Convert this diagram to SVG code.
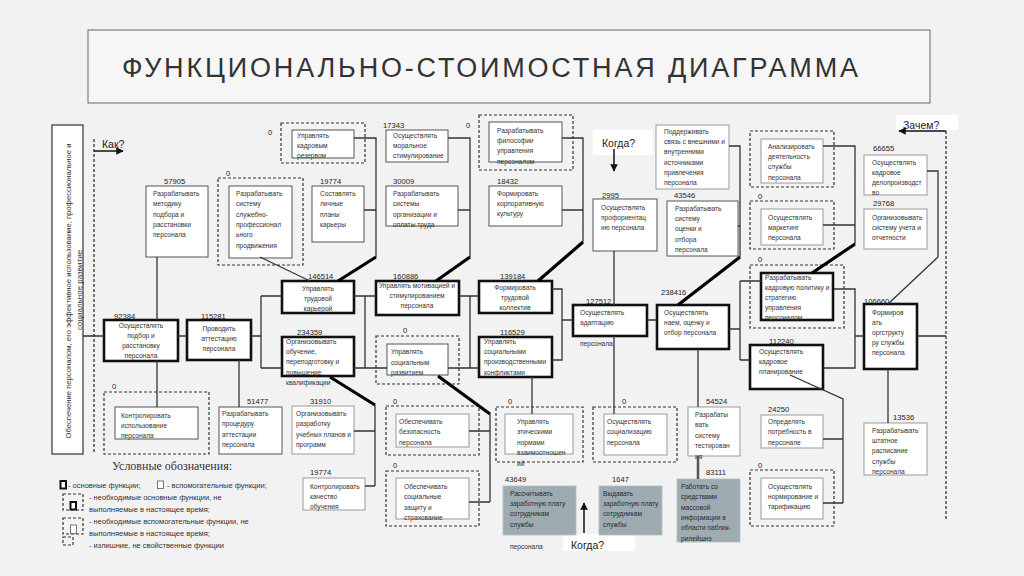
<svg xmlns="http://www.w3.org/2000/svg" width="1024" height="576" viewBox="0 0 1024 576">
<defs>
<marker id="ah" viewBox="0 0 10 10" refX="9" refY="5" markerWidth="5" markerHeight="5" orient="auto"><path d="M0,0 L10,5 L0,10 z" fill="#111"/></marker>
<style>
text{font-family:"Liberation Sans",Arial,sans-serif;fill:#333}
.t{font-size:6.6px}
.c{text-anchor:middle}
.n{font-size:7.6px;fill:#222}
.b{fill:#fff;stroke:#555;stroke-width:1}
.bl{fill:#fff;stroke:#999;stroke-width:1}
.B{fill:#fff;stroke:#111;stroke-width:2.6}
.d{fill:none;stroke:#333;stroke-width:1.2;stroke-dasharray:3 2}
.g{fill:#9eabb0;stroke:#b3bec2;stroke-width:.8}
.w{fill:#1f2b35}
.l{fill:none;stroke:#333;stroke-width:1.3}
.L{fill:none;stroke:#000;stroke-width:3.2}
.q{font-size:10.5px;fill:#222}
.lg{font-size:7.5px}
</style>
</defs>
<rect x="0" y="0" width="1024" height="576" fill="#f2f2f2"/>
<g id="title">
<rect x="88" y="30" width="842" height="73" fill="#f6f6f6" stroke="#666" stroke-width="1"/>
<text x="122" y="77" font-size="27" fill="#3d3d3d" textLength="736" lengthAdjust="spacing">ФУНКЦИОНАЛЬНО-СТОИМОСТНАЯ ДИАГРАММА</text>
</g>
<g id="goal">
<rect x="52" y="125" width="31" height="329" fill="#fff" stroke="#333" stroke-width="1.2"/>
<text transform="rotate(-90 71 291)" x="71" y="291" font-size="8" class="c" textLength="295" lengthAdjust="spacingAndGlyphs">Обеспечение персоналом, его эффективное использование, профессиональное и</text>
<text transform="rotate(-90 82 290)" x="82" y="290" font-size="8" class="c">социальное развитие</text>
</g>
<g id="questions">
<line x1="94" y1="139" x2="94" y2="454" stroke="#333" stroke-width="1.3" stroke-dasharray="3 2"/>
<line x1="946" y1="131" x2="946" y2="520" stroke="#333" stroke-width="1.3" stroke-dasharray="3 2"/>
<line x1="94" y1="151" x2="123" y2="151" stroke="#111" stroke-width="1.5" marker-end="url(#ah)"/>
<text class="q" x="102" y="148" font-size="10">Как?</text>
<rect x="896" y="115" width="62" height="15" fill="#fff"/>
<text class="q" x="903" y="129">Зачем?</text>
<line x1="946" y1="131" x2="899" y2="131" stroke="#111" stroke-width="1.5" marker-end="url(#ah)"/>
<rect x="593" y="130" width="60" height="25" fill="#fff"/>
<text class="q" x="602" y="147">Когда?</text>
<line x1="614" y1="149" x2="614" y2="171" stroke="#111" stroke-width="1.5" marker-end="url(#ah)"/>
<rect x="563" y="534" width="72" height="17" fill="#fff"/>
<text class="q" x="571" y="549">Когда?</text>
<line x1="584" y1="533" x2="584" y2="503" stroke="#111" stroke-width="1.5" marker-end="url(#ah)"/>
</g>
<g id="n1"><text class="n" x="268" y="135">0</text><rect class="d" x="281" y="123" width="84" height="40"/><rect class="b" x="292" y="130" width="62" height="28"/><text class="t" x="297" y="138">Управлять<tspan x="297" dy="10">кадровым</tspan><tspan x="297" dy="10">резервом</tspan></text></g>
<g id="n2"><text class="n" x="383" y="128">17343</text><rect class="b" x="386" y="130" width="62" height="32"/><text class="t" x="393" y="138">Осуществлять<tspan x="393" dy="10">моральное</tspan><tspan x="393" dy="10">стимулирование</tspan></text></g>
<g id="n3"><text class="n" x="466" y="128">0</text><rect class="d" x="479" y="115" width="94" height="55"/><rect class="b" x="489" y="122" width="73" height="40"/><text class="t" x="497" y="133">Разрабатывать<tspan x="497" dy="10.2">философии</tspan><tspan x="497" dy="10.2">управления</tspan><tspan x="497" dy="10.2">персоналом</tspan></text></g>
<g id="n4"><rect class="bl" x="656" y="125" width="73" height="64"/><text class="t" x="664" y="134">Поддерживать<tspan x="664" dy="10.2">связь с внешними и</tspan><tspan x="664" dy="10.2">внутренними</tspan><tspan x="664" dy="10.2">источниками</tspan><tspan x="664" dy="10.2">привлечения</tspan><tspan x="664" dy="10.2">персонала</tspan></text></g>
<g id="n5"><text class="n" x="164" y="184">57905</text><rect class="b" x="146" y="186" width="62" height="71"/><text class="t" x="153" y="196">Разрабатывать<tspan x="153" dy="10.3">методику</tspan><tspan x="153" dy="10.3">подбора и</tspan><tspan x="153" dy="10.3">расстановки</tspan><tspan x="153" dy="10.3">персонала</tspan></text></g>
<g id="n6"><text class="n" x="226" y="176">0</text><rect class="d" x="218" y="178" width="85" height="87"/><rect class="b" x="229" y="186" width="63" height="72"/><text class="t" x="236" y="196">Разрабатывать<tspan x="236" dy="10.3">систему</tspan><tspan x="236" dy="10.3">служебно-</tspan><tspan x="236" dy="10.3">профессионал</tspan><tspan x="236" dy="10.3">ьного</tspan><tspan x="236" dy="10.3">продвижения</tspan></text></g>
<g id="n7"><text class="n" x="320" y="184">19774</text><rect class="b" x="312" y="186" width="52" height="56"/><text class="t" x="320" y="196">Составлять<tspan x="320" dy="10.3">личные</tspan><tspan x="320" dy="10.3">планы</tspan><tspan x="320" dy="10.3">карьеры</tspan></text></g>
<g id="n8"><text class="n" x="393" y="184">30009</text><rect class="b" x="386" y="186" width="72" height="40"/><text class="t" x="393" y="196">Разрабатывать<tspan x="393" dy="10.3">системы</tspan><tspan x="393" dy="10.3">организации и</tspan><tspan x="393" dy="10.3">оплаты труда</tspan></text></g>
<g id="n9"><text class="n" x="497" y="184">18432</text><rect class="b" x="489" y="186" width="73" height="40"/><text class="t" x="497" y="196">Формировать<tspan x="497" dy="10.2">корпоративную</tspan><tspan x="497" dy="10.2">культуру</tspan></text></g>
<g id="n10"><text class="n" x="602" y="198">2995</text><rect class="b" x="593" y="199" width="64" height="52"/><text class="t" x="601" y="210">Осуществлять<tspan x="601" dy="10">профориентац</tspan><tspan x="601" dy="10">ию персонала</tspan></text></g>
<g id="n11"><text class="n" x="674" y="198">43546</text><rect class="b" x="667" y="201" width="71" height="55"/><text class="t" x="675" y="211">Разрабатывать<tspan x="675" dy="10.2">систему</tspan><tspan x="675" dy="10.2">оценки и</tspan><tspan x="675" dy="10.2">отбора</tspan><tspan x="675" dy="10.2">персонала</tspan></text></g>
<g id="n12"><rect class="d" x="750" y="131" width="84" height="56"/><rect class="bl" x="761" y="139" width="62" height="44"/><text class="t" x="768" y="149">Анализировать<tspan x="768" dy="10.2">деятельность</tspan><tspan x="768" dy="10.2">службы</tspan><tspan x="768" dy="10.2">персонала</tspan></text></g>
<g id="n13"><text class="n" x="758" y="199">0</text><rect class="d" x="750" y="201" width="84" height="48"/><rect class="bl" x="761" y="209" width="62" height="36"/><text class="t" x="768" y="220">Осуществлять<tspan x="768" dy="10">маркетинг</tspan><tspan x="768" dy="10">персонала</tspan></text></g>
<g id="n14"><text class="n" x="873" y="151">66655</text><rect class="bl" x="864" y="155" width="63" height="40"/><text class="t" x="872" y="165">Осуществлять<tspan x="872" dy="10">кадровое</tspan><tspan x="872" dy="10">делопроизводст</tspan><tspan x="872" dy="10">во</tspan></text></g>
<g id="n15"><text class="n" x="873" y="206">29768</text><rect class="bl" x="864" y="209" width="63" height="40"/><text class="t" x="872" y="220">Организовывать<tspan x="872" dy="10">систему учета и</tspan><tspan x="872" dy="10">отчетности</tspan></text></g>
<g id="n16"><text class="n" x="758" y="262">0</text><rect class="d" x="750" y="265" width="94" height="63"/><rect class="B" x="761" y="273" width="72" height="47"/><text class="t" x="765" y="280">Разрабатывать<tspan x="765" dy="10">кадровую политику и</tspan><tspan x="765" dy="10">стратегию</tspan><tspan x="765" dy="10">управления</tspan><tspan x="765" dy="10">персоналом</tspan></text></g>
<g id="n17"><text class="n" x="114" y="319">92384</text><rect class="B" x="104" y="320" width="74" height="41"/><text class="t c" x="141" y="328">Осуществлять<tspan x="141" dy="10">подбор и</tspan><tspan x="141" dy="10">расстановку</tspan><tspan x="141" dy="10">персонала</tspan></text></g>
<g id="n18"><text class="n" x="201" y="319">115281</text><rect class="B" x="187" y="320" width="64" height="40"/><text class="t c" x="219" y="331">Проводить<tspan x="219" dy="10">аттестацию</tspan><tspan x="219" dy="10">персонала</tspan></text></g>
<g id="n19"><text class="n" x="308" y="279">146514</text><rect class="B" x="282" y="281" width="72" height="32"/><text class="t c" x="318" y="291">Управлять<tspan x="318" dy="10">трудовой</tspan><tspan x="318" dy="10">карьерой</tspan></text></g>
<g id="n20"><text class="n" x="393" y="279">160886</text><rect class="B" x="376" y="281" width="83" height="34"/><text class="t c" x="417" y="288">Управлять мотивацией и<tspan x="417" dy="10">стимулированием</tspan><tspan x="417" dy="10">персонала</tspan></text></g>
<g id="n21"><text class="n" x="500" y="279">139184</text><rect class="B" x="479" y="281" width="73" height="32"/><text class="t c" x="515" y="290">Формировать<tspan x="515" dy="10">трудовой</tspan><tspan x="515" dy="10">коллектив</tspan></text></g>
<g id="n22"><text class="n" x="297" y="335">234359</text><rect class="B" x="282" y="337" width="72" height="39"/><text class="t" x="286" y="344">Организовывать<tspan x="286" dy="10.2">обучение,</tspan><tspan x="286" dy="10.2">переподготовку и</tspan><tspan x="286" dy="10.2">повышение</tspan><tspan x="286" dy="10.2">квалификации</tspan></text></g>
<g id="n23"><text class="n" x="403" y="333">0</text><rect class="d" x="376" y="336" width="83" height="48"/><rect class="b" x="387" y="344" width="61" height="31"/><text class="t" x="391" y="354">Управлять<tspan x="391" dy="10.5">социальным</tspan><tspan x="391" dy="10.5">развитием</tspan></text></g>
<g id="n24"><text class="n" x="500" y="335">116529</text><rect class="B" x="479" y="337" width="73" height="40"/><text class="t" x="484" y="344">Управлять<tspan x="484" dy="10.2">социальными</tspan><tspan x="484" dy="10.2">производственными</tspan><tspan x="484" dy="10.2">конфликтами</tspan></text></g>
<g id="n25"><text class="n" x="586" y="304">127512</text><rect class="B" x="573" y="305" width="74" height="31"/><text class="t" x="580" y="315">Осуществлять<tspan x="580" dy="10">адаптацию</tspan></text><text class="t" x="580" y="346">персонала</text></g>
<g id="n26"><text class="n" x="661" y="295">238416</text><rect class="B" x="657" y="305" width="72" height="44"/><text class="t" x="664" y="315">Осуществлять<tspan x="664" dy="10.2">наем, оценку и</tspan><tspan x="664" dy="10.2">отбор персонала</tspan></text></g>
<g id="n27"><text class="n" x="769" y="344">112240</text><rect class="B" x="750" y="345" width="73" height="44"/><text class="t" x="759" y="354">Осуществлять<tspan x="759" dy="10">кадровое</tspan><tspan x="759" dy="10">планирование</tspan></text></g>
<g id="n28"><text class="n" x="864" y="304">106660</text><rect class="B" x="864" y="304" width="53" height="65"/><text class="t" x="872" y="315">Формиров<tspan x="872" dy="10">ать</tspan><tspan x="872" dy="10">оргструкту</tspan><tspan x="872" dy="10">ру службы</tspan><tspan x="872" dy="10">персонала</tspan></text></g>
<g id="n29"><text class="n" x="112" y="389">0</text><rect class="d" x="104" y="392" width="105" height="62"/><rect class="b" x="115" y="407" width="83" height="32"/><text class="t" x="121" y="418">Контролировать<tspan x="121" dy="10.2">использование</tspan><tspan x="121" dy="10.2">персонала</tspan></text></g>
<g id="n30"><text class="n" x="247" y="404">51477</text><rect class="b" x="219" y="407" width="63" height="47"/><text class="t" x="222" y="416">Разрабатывать<tspan x="222" dy="10.4">процедуру</tspan><tspan x="222" dy="10.4">аттестации</tspan><tspan x="222" dy="10.4">персонала</tspan></text></g>
<g id="n31"><text class="n" x="310" y="404">31910</text><rect class="bl" x="292" y="406" width="62" height="48"/><text class="t" x="296" y="416">Организовывать<tspan x="296" dy="10.4">разработку</tspan><tspan x="296" dy="10.4">учебных планов и</tspan><tspan x="296" dy="10.4">программ</tspan></text></g>
<g id="n32"><text class="n" x="393" y="404">0</text><rect class="d" x="386" y="406" width="93" height="49"/><rect class="bl" x="396" y="414" width="73" height="33"/><text class="t" x="399" y="424">Обеспечивать<tspan x="399" dy="10.4">безопасность</tspan><tspan x="399" dy="10.4">персонала</tspan></text></g>
<g id="n33"><text class="n" x="508" y="404">0</text><rect class="d" x="496" y="407" width="87" height="55"/><rect class="bl" x="505" y="414" width="68" height="40"/><text class="t" x="517" y="424">Управлять<tspan x="517" dy="10.4">этическими</tspan><tspan x="517" dy="10.4">нормами</tspan><tspan x="517" dy="10.4">взаимоотношен</tspan><tspan x="517" dy="10.4">ий</tspan></text></g>
<g id="n34"><text class="n" x="622" y="404">0</text><rect class="d" x="593" y="407" width="84" height="55"/><rect class="bl" x="604" y="414" width="63" height="41"/><text class="t" x="607" y="424">Осуществлять<tspan x="607" dy="10.4">социализацию</tspan><tspan x="607" dy="10.4">персонала</tspan></text></g>
<g id="n35"><text class="n" x="706" y="404">54524</text><rect class="bl" x="688" y="407" width="52" height="49"/><text class="t" x="695" y="417">Разрабаты<tspan x="695" dy="10.4">вать</tspan><tspan x="695" dy="10.4">систему</tspan><tspan x="695" dy="10.4">тестирован</tspan><tspan x="695" dy="10.4">ия</tspan></text></g>
<g id="n36"><text class="n" x="310" y="475">19774</text><rect class="bl" x="303" y="478" width="62" height="32"/><text class="t" x="310" y="489">Контролировать<tspan x="310" dy="10.2">качество</tspan><tspan x="310" dy="10.2">обучения</tspan></text></g>
<g id="n37"><text class="n" x="393" y="468">0</text><rect class="d" x="386" y="471" width="93" height="55"/><rect class="bl" x="396" y="478" width="73" height="41"/><text class="t" x="404" y="489">Обеспечивать<tspan x="404" dy="10.3">социальные</tspan><tspan x="404" dy="10.3">защиту и</tspan><tspan x="404" dy="10.3">страхование</tspan></text></g>
<g id="n38"><text class="n" x="505" y="482">43649</text><rect class="g" x="503" y="486" width="73" height="49"/><text class="t w" x="510" y="496">Рассчитывать<tspan x="510" dy="10.2">заработную плату</tspan><tspan x="510" dy="10.2">сотрудникам</tspan><tspan x="510" dy="10.2">службы</tspan></text><text class="t" x="510" y="549">персонала</text></g>
<g id="n39"><text class="n" x="612" y="482">1647</text><rect class="g" x="599" y="486" width="63" height="49"/><text class="t w" x="603" y="496">Выдавать<tspan x="603" dy="10.2">заработную плату</tspan><tspan x="603" dy="10.2">сотрудникам</tspan><tspan x="603" dy="10.2">службы</tspan></text></g>
<g id="n40"><text class="n" x="706" y="475">83111</text><rect class="g" x="677" y="479" width="63" height="63"/><text class="t w" x="681" y="489">Работать со<tspan x="681" dy="10.3">средствами</tspan><tspan x="681" dy="10.3">массовой</tspan><tspan x="681" dy="10.3">информации в</tspan><tspan x="681" dy="10.3">области паблик-</tspan><tspan x="681" dy="10.3">рилейшнз</tspan></text></g>
<g id="n41"><text class="n" x="768" y="412">24250</text><rect class="bl" x="761" y="415" width="62" height="33"/><text class="t" x="768" y="424">Определять<tspan x="768" dy="10.4">потребность в</tspan><tspan x="768" dy="10.4">персонале</tspan></text></g>
<g id="n42"><text class="n" x="758" y="468">0</text><rect class="d" x="750" y="470" width="84" height="56"/><rect class="bl" x="761" y="478" width="62" height="41"/><text class="t" x="768" y="489">Осуществлять<tspan x="768" dy="10.2">нормирование и</tspan><tspan x="768" dy="10.2">тарификацию</tspan></text></g>
<g id="n43"><text class="n" x="893" y="420">13536</text><rect class="bl" x="864" y="423" width="63" height="52"/><text class="t" x="872" y="433">Разрабатывать<tspan x="872" dy="10.2">штатное</tspan><tspan x="872" dy="10.2">расписание</tspan><tspan x="872" dy="10.2">службы</tspan><tspan x="872" dy="10.2">персонала</tspan></text></g>
<g id="connectors">
<path class="l" d="M354,138 H376 V257 M364,210 H376 M448,138 H470 V257 M458,210 H470 M562,138 H583 V242 M562,210 H583 M729,146 H740 V257 M738,226 H740 M614,251 V305 M614,336 V414 M823,146 H855 V244 M823,225 H855 M927,171 H938 V257 M938,257 L888,304 M260,257 L310,281 M157,257 V320 M157,361 V407 M239,360 V407 M83,336 H104 M178,336 H187 M251,336 H261 M261,296 V368 M261,296 H282 M261,368 H282 M354,296 H376 M365,296 V368 M354,368 H387 M459,296 H479 M470,296 V368 M448,368 H479 M552,289 H562 V360 H552 M562,320 H573 M647,320 H657 M729,329 H740 M740,281 V360 M740,281 H761 M740,360 H750 M834,289 H855 V368 H823 M855,336 H864 M917,336 H946 M888,369 V423 M698,349 V407 M532,377 V414 M375,405 V486 M354,431 H375 M365,486 H375 M490,414 V502 M469,431 H490 M469,502 H490 M790,375 L843,399 V503 M823,439 H843 M823,503 H843"/>
<path d="M698,456 V479" stroke="#555" stroke-width="2.5" fill="none"/>
<path class="L" d="M376,257 L338,281 M470,257 L436,281 M583,242 L538,281 M740,257 L678,305 M855,244 L812,273 M330,377 L375,405 M438,376 L490,414"/>
</g>
<g id="legend">
<text x="112" y="470" font-size="12" style="font-family:'Liberation Serif',serif" fill="#222">Условные обозначения:</text>
<rect x="60.5" y="481" width="5.5" height="7.5" fill="#fff" stroke="#111" stroke-width="2"/>
<text class="lg" x="68" y="488">- основные функции;</text>
<rect x="157.5" y="481" width="6" height="7.5" fill="#fff" stroke="#555" stroke-width="0.8"/>
<text class="lg" x="167" y="488">- вспомогательные функции;</text>
<rect class="d" x="63" y="494" width="20" height="16"/>
<rect x="70.5" y="502" width="5.5" height="7.5" fill="#fff" stroke="#111" stroke-width="2"/>
<text class="lg" x="89" y="500">- необходимые основные функции, не</text>
<text class="lg" x="89" y="512">выполняемые в настоящее время;</text>
<rect class="d" x="63" y="518" width="20" height="16"/>
<rect x="70.5" y="525" width="6" height="8.5" fill="#fff" stroke="#555" stroke-width="0.8"/>
<text class="lg" x="89" y="524">- необходимые вспомогательные функции, не</text>
<text class="lg" x="89" y="536">выполняемые в настоящее время;</text>
<rect class="d" x="63" y="537" width="10" height="8"/>
<text class="lg" x="89" y="548">- излишние, не свойственные функции</text>
</g>
</svg>
